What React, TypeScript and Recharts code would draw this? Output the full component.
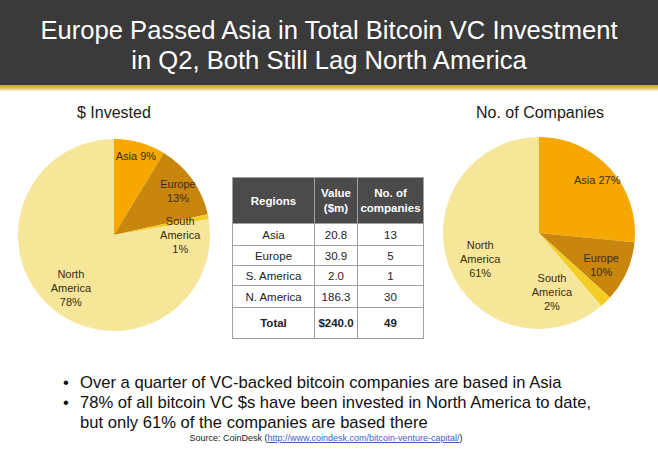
import React from "react";
import { PieChart, Pie, Cell } from "recharts";

const regionNames = ["Asia", "Europe", "South America", "North America"];
const tableRegions = ["Asia", "Europe", "S. America", "N. America"];
const investedValues = [20.8, 30.9, 2.0, 186.3];
const companyCounts = [13, 5, 1, 30];
const sliceColors = ["#f6a800", "#c8870c", "#f3cd24", "#f6e69a"];

const titleLines = [
  "Europe Passed Asia in Total Bitcoin VC Investment",
  "in Q2, Both Still Lag North America",
];
const bulletLines = [
  ["Over a quarter of VC-backed bitcoin companies are based in Asia"],
  [
    "78% of all bitcoin VC $s have been invested in North America to date,",
    "but only 61% of the companies are based there",
  ],
];

// label placement (radius factor, angle shift in degrees, single line) per slice
const leftLabelLayout = [
  { r: 0.85, shift: 0, inline: true },
  { r: 0.81, shift: -1, inline: false },
  { r: 0.69, shift: -11, inline: false },
  { r: 0.71, shift: 1, inline: false },
];
const rightLabelLayout = [
  { r: 0.82, shift: 0, inline: true },
  { r: 0.73, shift: -3.5, inline: false },
  { r: 0.63, shift: -31.7, inline: false },
  { r: 0.67, shift: 3.6, inline: false },
];

const FONT = "Arial, 'Liberation Sans', Helvetica, sans-serif";
const RAD = Math.PI / 180;

const investedData = regionNames.map((n, i) => ({ name: n, value: investedValues[i] }));
const companyData = regionNames.map((n, i) => ({ name: n, value: companyCounts[i] }));

function makeLabel(layout: { r: number; shift: number; inline: boolean }[]) {
  return (props: any) => {
    const { cx, cy, midAngle, outerRadius, percent, index, name } = props;
    const lay = layout[index];
    const ang = (midAngle + lay.shift) * RAD;
    const rr = outerRadius * lay.r;
    const x = cx + rr * Math.cos(-ang);
    const y = cy + rr * Math.sin(-ang);
    const pct = Math.round(percent * 100) + "%";
    const words = String(name).split(" ");
    const lines = lay.inline ? [name + " " + pct] : [...words, pct];
    const lh = 14;
    const y0 = y - ((lines.length - 1) * lh) / 2;
    return (
      <text
        x={x}
        y={y0}
        textAnchor="middle"
        dominantBaseline="central"
        fontFamily={FONT}
        fontSize={11}
        fill="#3a2c12"
      >
        {lines.map((l, i) => (
          <tspan key={i} x={x} y={y0 + i * lh}>
            {l}
          </tspan>
        ))}
      </text>
    );
  };
}

const cellBorder = "1px solid #a0a0a0";

export default function App() {
  const totalValue = investedValues.reduce((a, b) => a + b, 0);
  const totalCompanies = companyCounts.reduce((a, b) => a + b, 0);
  const rowHeights = [22, 20, 20, 22];
  return (
    <div
      style={{
        position: "fixed",
        left: 0,
        top: 0,
        width: 658,
        height: 453,
        background: "#ffffff",
        fontFamily: FONT,
        overflow: "hidden",
      }}
    >
      {/* title bar */}
      <div
        style={{
          position: "absolute",
          left: 0,
          top: 0,
          width: 658,
          height: 85,
          background: "#3a3a3a",
        }}
      />
      <div
        style={{
          position: "absolute",
          left: 0,
          top: 85,
          width: 658,
          height: 6,
          background: "linear-gradient(#c9a52c 0%, #d9be5a 45%, #fbf3d2 100%)",
        }}
      />
      {titleLines.map((t, i) => (
        <div
          key={i}
          style={{
            position: "absolute",
            left: 0,
            width: 658,
            top: 15 + i * 30,
            textAlign: "center",
            color: "#ffffff",
            fontSize: 25.6,
            lineHeight: "30px",
            whiteSpace: "nowrap",
          }}
        >
          {t}
        </div>
      ))}

      {/* section titles */}
      <div
        style={{
          position: "absolute",
          left: 77,
          top: 103,
          fontSize: 16,
          lineHeight: "20px",
          color: "#1a1a1a",
          whiteSpace: "nowrap",
        }}
      >
        $ Invested
      </div>
      <div
        style={{
          position: "absolute",
          left: 476,
          top: 103,
          fontSize: 16,
          lineHeight: "20px",
          color: "#1a1a1a",
          whiteSpace: "nowrap",
        }}
      >
        No. of Companies
      </div>

      {/* pies */}
      <div style={{ position: "absolute", left: 0, top: 0 }}>
        <PieChart width={658} height={453} margin={{ top: 0, right: 0, bottom: 0, left: 0 }}>
          <Pie
            data={investedData}
            dataKey="value"
            nameKey="name"
            cx={114}
            cy={235}
            outerRadius={96}
            startAngle={90}
            endAngle={-270}
            stroke="none"
            isAnimationActive={false}
            labelLine={false}
            label={makeLabel(leftLabelLayout)}
          >
            {investedData.map((d, i) => (
              <Cell key={i} fill={sliceColors[i]} />
            ))}
          </Pie>
          <Pie
            data={companyData}
            dataKey="value"
            nameKey="name"
            cx={539}
            cy={233}
            outerRadius={96}
            startAngle={90}
            endAngle={-270}
            stroke="none"
            isAnimationActive={false}
            labelLine={false}
            label={makeLabel(rightLabelLayout)}
          >
            {companyData.map((d, i) => (
              <Cell key={i} fill={sliceColors[i]} />
            ))}
          </Pie>
        </PieChart>
      </div>

      {/* table */}
      <table
        style={{
          position: "absolute",
          left: 232,
          top: 177,
          width: 191,
          borderCollapse: "collapse",
          fontSize: 11.5,
          color: "#222",
          textAlign: "center",
          tableLayout: "fixed",
        }}
      >
        <colgroup>
          <col style={{ width: 82 }} />
          <col style={{ width: 43 }} />
          <col style={{ width: 66 }} />
        </colgroup>
        <tbody>
          <tr style={{ height: 46, background: "#4b4b4b", color: "#fff", fontWeight: "bold" }}>
            <td style={{ border: cellBorder, padding: 0 }}>Regions</td>
            <td style={{ border: cellBorder, padding: 0, lineHeight: "15px" }}>
              Value
              <br />
              ($m)
            </td>
            <td style={{ border: cellBorder, padding: 0, lineHeight: "15px" }}>
              No. of
              <br />
              companies
            </td>
          </tr>
          {tableRegions.map((r, i) => (
            <tr key={r} style={{ height: rowHeights[i] }}>
              <td style={{ border: cellBorder, padding: 0 }}>{r}</td>
              <td style={{ border: cellBorder, padding: 0 }}>{investedValues[i].toFixed(1)}</td>
              <td style={{ border: cellBorder, padding: 0 }}>{companyCounts[i]}</td>
            </tr>
          ))}
          <tr style={{ height: 31, fontWeight: "bold" }}>
            <td style={{ border: cellBorder, padding: 0 }}>Total</td>
            <td style={{ border: cellBorder, padding: 0 }}>${totalValue.toFixed(1)}</td>
            <td style={{ border: cellBorder, padding: 0 }}>{totalCompanies}</td>
          </tr>
        </tbody>
      </table>

      {/* bullets */}
      {bulletLines.map((lines, bi) => (
        <div
          key={bi}
          style={{
            position: "absolute",
            left: 63,
            top: 373 + bi * 20,
            fontSize: 16.6,
            lineHeight: "19.5px",
            color: "#111",
            whiteSpace: "nowrap",
          }}
        >
          <span style={{ position: "absolute", left: 0, top: 0 }}>•</span>
          <div style={{ marginLeft: 17 }}>
            {lines.map((l, li) => (
              <div key={li}>{l}</div>
            ))}
          </div>
        </div>
      ))}

      {/* source */}
      <div
        style={{
          position: "absolute",
          left: 0,
          width: 658,
          top: 433,
          textAlign: "center",
          fontSize: 9,
          lineHeight: "11px",
          color: "#222",
          whiteSpace: "nowrap",
        }}
      >
        <span style={{ marginLeft: -6 }}>
          Source: CoinDesk (
          <span style={{ color: "#3b5fc0", textDecoration: "underline" }}>
            http://www.coindesk.com/bitcoin-venture-capital/
          </span>
          )
        </span>
      </div>
    </div>
  );
}
